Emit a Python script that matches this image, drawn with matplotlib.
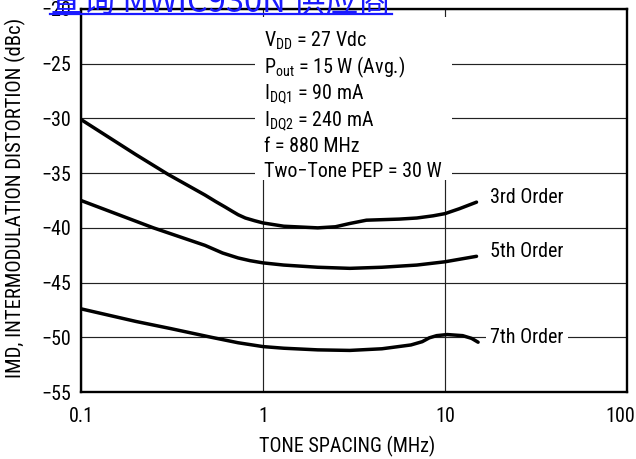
import matplotlib
matplotlib.use("Agg")
import matplotlib.pyplot as plt
from matplotlib.lines import Line2D
from matplotlib.patches import Rectangle
import matplotlib.transforms as mtransforms
from matplotlib import font_manager

# ---- data ----
x3 = [0.1, 0.2, 0.3, 0.48, 0.55, 0.62, 0.68, 0.73, 0.8, 0.9, 1.0, 1.3, 2.0, 2.5, 3.0, 3.7, 5.6, 7.0, 8.6, 10, 12, 14.9]
y3 = [-30.1, -33.3, -35.1, -37.0, -37.6, -38.1, -38.5, -38.8, -39.1, -39.35, -39.55, -39.85, -40.0, -39.9, -39.6, -39.3, -39.2, -39.1, -38.9, -38.7, -38.25, -37.65]

x5 = [0.1, 0.25, 0.48, 0.6, 0.73, 0.85, 1.0, 1.3, 2.0, 3.0, 4.5, 7.0, 10, 14.9]
y5 = [-37.5, -40.0, -41.6, -42.3, -42.75, -43.0, -43.2, -43.4, -43.6, -43.7, -43.6, -43.4, -43.1, -42.6]

x7 = [0.1, 0.2, 0.31, 0.52, 0.73, 1.0, 1.3, 2.0, 3.0, 4.5, 6.5, 7.5, 8.2, 9.0, 10.3, 12.5, 14.0, 15.2]
y7 = [-47.4, -48.55, -49.2, -50.0, -50.5, -50.85, -51.0, -51.15, -51.2, -51.05, -50.7, -50.4, -50.05, -49.85, -49.75, -49.85, -50.1, -50.45]

series_labels = ["3rd Order", "5th Order", "7th Order"]
label_y = [-37.2, -42.2, -50.0]

xticks = [0.1, 1, 10, 100]
xtick_labels = ["0.1", "1", "10", "100"]
yticks = [-55, -50, -45, -40, -35, -30, -25, -20]

cond_lines = [
    r"V$_{DD}$ = 27 Vdc",
    r"P$_{out}$ = 15 W (Avg.)",
    r"I$_{DQ1}$ = 90 mA",
    r"I$_{DQ2}$ = 240 mA",
    "f = 880 MHz",
    "Two\u2212Tone PEP = 30 W",
]
cond_y = [-23.45, -25.85, -28.27, -30.69, -33.07, -35.36]

# ---- pick a condensed sans font if one is installed ----
stretch = "normal"
family = None
SCALE = 1.07
names = {(f.name, f.stretch) for f in font_manager.fontManager.ttflist}
for nm in ["Liberation Sans Narrow", "Roboto Condensed", "Open Sans Condensed",
           "DejaVu Sans Condensed", "Noto Sans Condensed"]:
    if any(n == nm for n, s in names):
        family = nm
        break
if family is None:
    for n, s in names:
        if n in ("DejaVu Sans", "Noto Sans", "Roboto", "Open Sans") and s in ("condensed", "semi-condensed"):
            family = n
            stretch = s
            break
if family is None:
    family = "Liberation Sans"
    SCALE = 0.93
FS = 13.5 * SCALE
FSY = 13.9 * SCALE

plt.rcParams["font.family"] = [family, "DejaVu Sans"]
plt.rcParams["font.stretch"] = stretch
plt.rcParams["mathtext.default"] = "regular"

fig = plt.figure(figsize=(6.36, 4.59), dpi=100)
W, H = 636, 459
L, R, T, B = 81, 627, 9, 392
ax = fig.add_axes([L / W, 1 - B / H, (R - L) / W, (B - T) / H])

ax.set_xscale("log")
ax.set_xlim(0.1, 100)
ax.set_ylim(-55, -20)
ax.set_xticks(xticks)
ax.set_xticklabels(xtick_labels)
ax.xaxis.set_minor_locator(matplotlib.ticker.NullLocator())
ax.set_yticks(yticks)
ax.set_yticklabels([("\u2212%d" % abs(v)) for v in yticks])
ax.tick_params(axis="both", length=0, labelsize=FS, colors="black")
ax.tick_params(axis="x", pad=11)
ax.tick_params(axis="y", pad=7)

# shift "100" label left so it stays inside the image
lbls = ax.get_xticklabels()
off = mtransforms.ScaledTranslation(-7 / 100, 0, fig.dpi_scale_trans)
lbls[-1].set_transform(lbls[-1].get_transform() + off)

for s in ax.spines.values():
    s.set_linewidth(1.7)
    s.set_color("black")

ax.grid(True, which="major", color="#222222", linewidth=0.85)
ax.set_axisbelow(True)

ax.set_xlabel("TONE SPACING (MHz)", fontsize=FS)
ax.xaxis.set_label_coords(0.488, -0.115)
ax.set_ylabel("IMD, INTERMODULATION DISTORTION (dBc)", fontsize=FSY)
ax.yaxis.set_label_coords(-0.100, 0.507)

# white mask behind the condition block
ax.add_patch(Rectangle((0.319, 0.553), 0.36, 0.426, transform=ax.transAxes,
                       facecolor="white", edgecolor="none", zorder=1.5))

for xs, ys in [(x3, y3), (x5, y5), (x7, y7)]:
    ax.plot(xs, ys, color="black", linewidth=2.5, solid_capstyle="round",
            solid_joinstyle="round", zorder=3)

for lab, yy in zip(series_labels, label_y):
    ax.text(17.7, yy, lab, fontsize=FS, va="center", ha="left", zorder=4,
            bbox=dict(facecolor="white", edgecolor="none", pad=3))

for txt, yy in zip(cond_lines, cond_y):
    ax.text(1.01, yy, txt, fontsize=FS, va="baseline", ha="left", zorder=4)

# blue watermark link text at the very top
fig.text(50 / W, 1 - 12 / H, "查询 MWIC930N 供应商", color="#1a1aff", fontsize=23.5,
         family=["Noto Sans CJK SC", "DejaVu Sans"], stretch="normal",
         va="baseline", ha="left")
fig.add_artist(Line2D([50 / W, 392 / W], [1 - 14.3 / H, 1 - 14.3 / H],
                      transform=fig.transFigure, color="#1a1aff", linewidth=1.6))

fig.savefig("out.png", dpi=100)
